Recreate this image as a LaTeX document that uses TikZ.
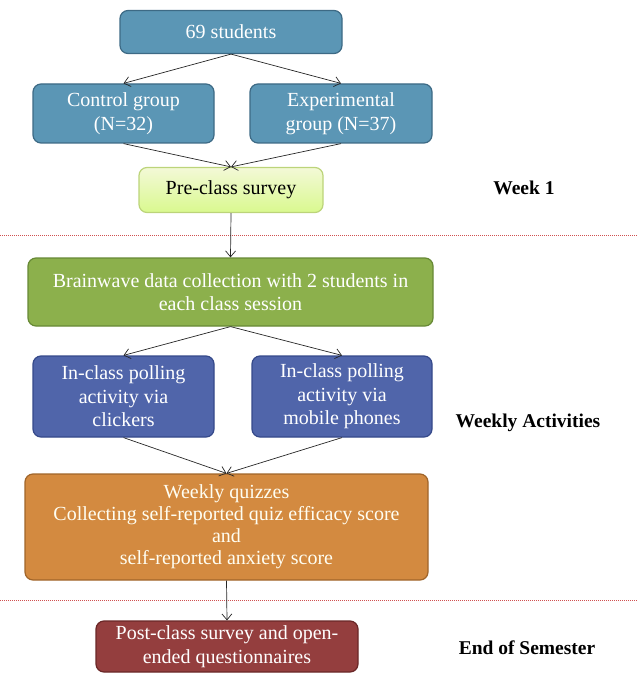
\documentclass[tikz,border=0pt]{standalone}
\usepackage{fontspec}
\setmainfont{Liberation Serif}
\usetikzlibrary{arrows.meta,shadows}
\definecolor{bluebox}{HTML}{5B96B5}
\definecolor{blueedge}{HTML}{3D6A85}
\definecolor{prefill}{HTML}{EEF7C6}
\definecolor{preedge}{HTML}{BCD47A}
\definecolor{greenbox}{HTML}{8CB04C}
\definecolor{greenedge}{HTML}{678935}
\definecolor{purplebox}{HTML}{5065AA}
\definecolor{purpleedge}{HTML}{35498A}
\definecolor{orangebox}{HTML}{D38A40}
\definecolor{orangeedge}{HTML}{A0652A}
\definecolor{redbox}{HTML}{943E3E}
\definecolor{rededge}{HTML}{6A2727}
\definecolor{sepline}{HTML}{D05050}
\tikzset{
  box/.style={draw, line width=1.2pt, rounded corners=8pt, align=center,
    inner sep=0pt, font=\fontsize{20}{23.5}\selectfont, text=white},
  conn/.style={draw=black!85, line width=0.7pt, -{Straight Barb[length=6pt,width=10pt]}},
  phase/.style={font=\fontsize{19.5}{22}\selectfont\bfseries, anchor=center},
  sep/.style={draw=sepline, line width=0.8pt, dash pattern=on 1pt off 1pt}
}
\begin{document}
\begin{tikzpicture}[x=1pt,y=-1pt]
\useasboundingbox (0,0) rectangle (637,676);
\node[box, fill=bluebox, draw=blueedge, minimum width=222pt, minimum height=43pt] (all) at (231,32) {69 students};
\node[box, fill=bluebox, draw=blueedge, minimum width=181pt, minimum height=59pt] (ctrl) at (123.5,113.5) {Control group\\(N=32)};
\node[box, fill=bluebox, draw=blueedge, minimum width=182pt, minimum height=59pt] (exp) at (341,113.5) {Experimental\\group (N=37)};
\node[box, top color=prefill!70!white, bottom color=prefill!80!yellow!90!green, draw=preedge, text=black, minimum width=184pt, minimum height=45pt] (pre) at (231,190) {Pre-class survey};
\node[phase] (w1) at (524,188) {Week 1};
\coordinate (s1l) at (0,235);
\coordinate (s1r) at (637,235);
\draw[sep] (s1l) -- (s1r);
\node[box, fill=greenbox, draw=greenedge, minimum width=405pt, minimum height=68pt] (brain) at (230.5,292) {Brainwave data collection with 2 students in\\each class session};
\node[box, fill=purplebox, draw=purpleedge, minimum width=181pt, minimum height=81pt] (click) at (123.5,396.5) {In-class polling\\activity via\\clickers};
\node[box, fill=purplebox, draw=purpleedge, minimum width=180pt, minimum height=81pt] (mob) at (342,396.5) {In-class polling\\activity via\\mobile phones};
\node[phase] (wa) at (528,423) {Weekly Activities};
\node[box, fill=orangebox, draw=orangeedge, text=white!95!yellow, minimum width=403pt, minimum height=106pt, font=\fontsize{20}{22}\selectfont] (quiz) at (226.5,527) {Weekly quizzes\\Collecting self-reported quiz efficacy score\\and\\self-reported anxiety score};
\coordinate (s2l) at (0,600);
\coordinate (s2r) at (637,600);
\draw[sep] (s2l) -- (s2r);
\node[box, fill=redbox, draw=rededge, minimum width=262pt, minimum height=51pt] (post) at (227,646.5) {Post-class survey and open-\\ended questionnaires};
\node[phase] (es) at (527,648) {End of Semester};
\draw[conn] (all.south) -- (ctrl.north);
\draw[conn] (all.south) -- (exp.north);
\draw[conn] (ctrl.south) -- (pre.north);
\draw[conn] (exp.south) -- (pre.north);
\draw[conn] (pre.south) -- (brain.north);
\draw[conn] (brain.south) -- (click.north);
\draw[conn] (brain.south) -- (mob.north);
\draw[conn] (click.south) -- (quiz.north);
\draw[conn] (mob.south) -- (quiz.north);
\draw[conn] (quiz.south) -- (post.north);
\end{tikzpicture}
\end{document}
